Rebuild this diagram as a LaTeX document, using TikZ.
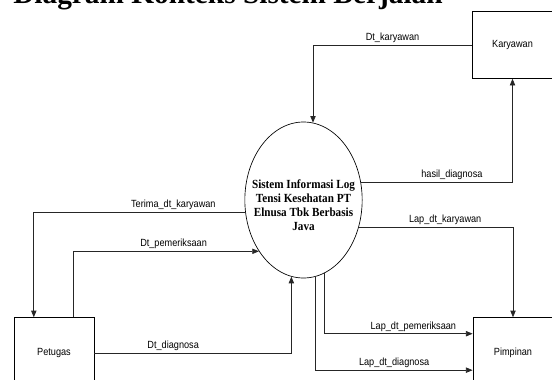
\documentclass[tikz,border=0pt]{standalone}
\usepackage{fontspec}
\setmainfont{Liberation Serif}
\setsansfont{Liberation Sans}
\usetikzlibrary{shapes, arrows.meta, positioning, calc}

% narrow text, as in the original drawing
\newcommand{\narrowtext}[1]{\scalebox{0.88}[1]{#1}}

\begin{document}
\begin{tikzpicture}[x=0.75pt, y=-0.75pt]
    % Define styles
    \tikzset{
        entity/.style={
            rectangle,
            minimum width=60pt,
            minimum height=50pt,
            draw=black,
            line width=0.6pt,
            font=\sffamily\fontsize{7.8}{9}\selectfont,
            anchor=center
        },
        process/.style={
            ellipse,
            minimum width=88pt,
            minimum height=117pt,
            inner sep=0pt,
            draw=black,
            line width=0.5pt
        },
        process label/.style={
            inner sep=0pt,
            font=\bfseries\fontsize{9.3}{10.5}\selectfont
        },
        flow/.style={-{Triangle[length=5pt, width=4pt]}, line width=0.6pt, black!85},
        flow label/.style={font=\sffamily\fontsize{7.8}{9}\selectfont, inner sep=1.5pt, black}
    }

    % Page frame
    \useasboundingbox (0,0) rectangle (552,379);
    \clip (0,0) rectangle (552,379);

    % Title (cut off at the top)
    \node[anchor=base west, inner sep=0pt, font=\bfseries\fontsize{22}{24}\selectfont] (judul) at (13,3.5) {Diagram Konteks Sistem Berjalan};

    % Process and external entities
    \node[process] (sys) at (303.5,200) {};
    \node[process label] (sysText) at ($(sys.center)+(0,7)$) {\scalebox{0.9}[1]{\begin{tabular}{@{}c@{}}Sistem Informasi Log\\Tensi Kesehatan PT\\Elnusa Tbk Berbasis\\Java\end{tabular}}};
    \node[entity] (kar) at (512.5,45) {\narrowtext{Karyawan}};
    \node[entity, minimum height=53pt] (pet) at (54,353) {\narrowtext{Petugas}};
    \node[entity, minimum height=53pt] (pim) at (513,353) {\narrowtext{Pimpinan}};

    % Karyawan <-> sistem
    \draw[flow] (kar.west) -| node[flow label, above, pos=0.25] {\narrowtext{Dt\_karyawan}} (sys.83);
    \draw[flow] (sys.17.6) -| node[flow label, above, pos=0.3] {\narrowtext{hasil\_diagnosa}} (kar.south);

    % Petugas <-> sistem
    \draw[flow] (sys.192.7) -| node[flow label, above, pos=0.17] {\narrowtext{Terima\_dt\_karyawan}} ($(pet.north west)!0.25!(pet.north east)$);
    \draw[flow] ($(pet.north west)!0.74!(pet.north east)$) |- node[flow label, above, pos=0.77] {\narrowtext{Dt\_pemeriksaan}} (sys.229);
    \draw[flow] (pet.east) -| node[flow label, above, pos=0.2] {\narrowtext{Dt\_diagnosa}} (sys.261.5);

    % Sistem -> Pimpinan
    \draw[flow] (sys.334.8) -| node[flow label, above, pos=0.28] {\narrowtext{Lap\_dt\_karyawan}} (pim.north);
    \draw[flow] (sys.286.5) |- node[flow label, above, pos=0.8] {\narrowtext{Lap\_dt\_pemeriksaan}} ($(pim.north west)!0.23!(pim.south west)$);
    \draw[flow] (sys.279.3) |- node[flow label, above, pos=0.75] {\narrowtext{Lap\_dt\_diagnosa}} ($(pim.north west)!0.74!(pim.south west)$);

\end{tikzpicture}
\end{document}
